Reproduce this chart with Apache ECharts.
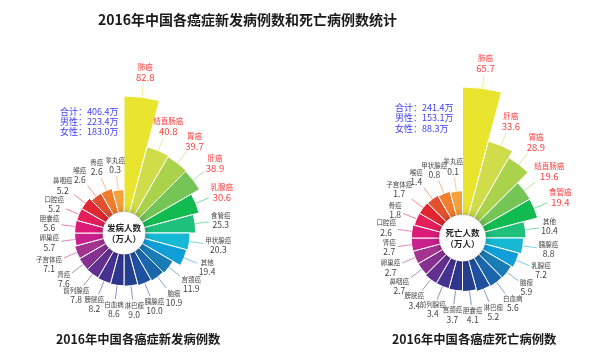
<!DOCTYPE html>
<html><head><meta charset="utf-8">
<script src="https://cdn.jsdelivr.net/npm/echarts@6/dist/echarts.min.js"></script>
<style>html,body{margin:0;padding:0;background:#fff}#c{width:592px;height:361px}</style>
</head><body><div id="c"></div>
<script>
const incidenceNames = ['肺癌','结直肠癌','胃癌','肝癌','乳腺癌','食管癌','甲状腺癌','其他','宫颈癌','脑瘤','胰腺癌','淋巴瘤','白血病','膀胱癌','前列腺癌','肾癌','子宫体癌','卵巢癌','胆囊癌','口腔癌','鼻咽癌','喉癌','骨癌','睾丸癌'];
const incidenceValues = [82.8,40.8,39.7,38.9,30.6,25.3,20.3,19.4,11.9,10.9,10.0,9.0,8.6,8.2,7.8,7.6,7.1,5.7,5.6,5.2,5.2,2.6,2.6,0.3];
const deathNames = ['肺癌','肝癌','胃癌','结直肠癌','食管癌','其他','胰腺癌','乳腺癌','脑瘤','白血病','淋巴瘤','胆囊癌','宫颈癌','前列腺癌','膀胱癌','鼻咽癌','卵巢癌','肾癌','口腔癌','骨癌','子宫体癌','喉癌','甲状腺癌','睾丸癌'];
const deathValues = [65.7,33.6,28.9,19.6,19.4,10.4,8.8,7.2,5.9,5.6,5.2,4.1,3.7,3.4,3.4,2.7,2.7,2.7,2.6,1.8,1.7,1.4,0.8,0.1];
const incidenceSummary = ['合计：406.4万','男性：223.4万','女性：183.0万'];
const deathSummary = ['合计：241.4万','男性：153.1万','女性：88.3万'];
const mainTitle = '2016年中国各癌症新发病例数和死亡病例数统计';
const incidenceCaption = '2016年中国各癌症新发病例数';
const deathCaption = '2016年中国各癌症死亡病例数';
const incidenceCenter = '发病人数\n（万人）';
const deathCenter = '死亡人数\n（万人）';
const highlightCount = 5;

const sliceColors = ['#e9e52e','#d0dc4a','#aad24a','#74c556','#12bb50','#1fbf7c','#16b8d4','#0f9ed8','#197cb5','#1b66ab','#1e4fa0','#243e90','#30358c','#45318f','#62308e','#84318f','#a3338f','#c8208c','#dc1a78','#e41e5a','#df2631','#e2502e','#f07e2d','#f4a13a','#d98a2b'];

const FONT = '"Noto Sans CJK SC", "Noto Sans", sans-serif';
const LINE_LEN = 14;
const LABEL_GAP = 2;

function placeLabel(params) {
  const pts = params.labelLinePoints;
  if (!pts || pts.length < 2) return {};
  const p0 = pts[0], p1 = pts[1];
  let dx = p1[0] - p0[0], dy = p1[1] - p0[1];
  const len = Math.sqrt(dx * dx + dy * dy) || 1;
  dx /= len; dy /= len;
  const ex = p0[0] + dx * LINE_LEN, ey = p0[1] + dy * LINE_LEN;
  const w = params.labelRect.width, h = params.labelRect.height;
  const off = LABEL_GAP + Math.min(Math.abs(dx) > 1e-6 ? (w / 2) / Math.abs(dx) : Infinity, Math.abs(dy) > 1e-6 ? (h / 2) / Math.abs(dy) : Infinity);
  return {
    x: ex + dx * off, y: ey + dy * off,
    align: 'center', verticalAlign: 'middle',
    labelLinePoints: [[p0[0], p0[1]], [ex, ey], [ex, ey]]
  };
}

function rosePie(names, values, center, r0, r1, offset) {
  return {
    type: 'pie', roseType: 'area', center: center, radius: [r0, r1],
    startAngle: 90, clockwise: true, z: 2,
    avoidLabelOverlap: false,
    itemStyle: { borderColor: '#fff', borderWidth: 1 },
    label: {
      show: true, position: 'outside', fontFamily: FONT,
      formatter: function (p) {
        const i = p.dataIndex;
        const v = values[i].toFixed(1);
        return i < highlightCount ? '{rn|' + names[i] + '}\n{rv|' + v + '}' : '{n|' + names[i] + '}\n{v|' + v + '}';
      },
      rich: {
        n: { fontSize: 6.5, color: '#444', lineHeight: 9, fontFamily: FONT },
        v: { fontSize: 8.5, color: '#444', lineHeight: 10, fontFamily: FONT },
        rn: { fontSize: 7.5, color: '#ff4040', lineHeight: 10, fontFamily: FONT },
        rv: { fontSize: 9.5, color: '#ff4040', lineHeight: 10.5, fontFamily: FONT }
      }
    },
    labelLine: { show: true, length: 10, length2: 0, lineStyle: { width: 1, opacity: 0.55 } },
    labelLayout: placeLabel,
    data: names.map(function (n, i) {
      return { name: n, value: values[i] + offset, itemStyle: { color: sliceColors[i] } };
    }),
    silent: true
  };
}

function centerDisc(text, center, r) {
  return {
    type: 'pie', center: center, radius: [0, r], z: 5, silent: true,
    itemStyle: { color: '#fff', shadowBlur: 8, shadowColor: 'rgba(0,0,0,0.35)' },
    label: { show: true, position: 'center', formatter: text, fontSize: 8.5, fontWeight: 'bold', color: '#222', lineHeight: 11, fontFamily: FONT },
    labelLine: { show: false },
    data: [{ value: 1, name: 'c' }]
  };
}

const chart = echarts.init(document.getElementById('c'), null, { renderer: 'canvas' });
chart.setOption({
  backgroundColor: '#fff',
  animation: false,
  title: [
    { text: mainTitle, left: 93, top: 8, textStyle: { fontSize: 14, fontWeight: 'bold', color: '#1a1a1a', fontFamily: FONT } },
    { text: incidenceCaption, left: 51, top: 328, textStyle: { fontSize: 12.3, fontWeight: 'bold', color: '#1a1a1a', fontFamily: FONT } },
    { text: deathCaption, left: 387, top: 328, textStyle: { fontSize: 12.3, fontWeight: 'bold', color: '#1a1a1a', fontFamily: FONT } },
    { text: incidenceSummary.join('\n'), left: 55, top: 102, textStyle: { fontSize: 9, fontWeight: 'normal', color: '#4040ff', lineHeight: 10, fontFamily: FONT } },
    { text: deathSummary.join('\n'), left: 390, top: 97, textStyle: { fontSize: 9, fontWeight: 'normal', color: '#4040ff', lineHeight: 10.5, fontFamily: FONT } }
  ],
  series: [
    rosePie(incidenceNames, incidenceValues, [124, 233], 21, 137, 19.4),
    centerDisc(incidenceCenter, [124, 233], 21),
    rosePie(deathNames, deathValues, [462.5, 238], 23, 151, 15.2),
    centerDisc(deathCenter, [462.5, 238], 23)
  ]
});
</script></body></html>
